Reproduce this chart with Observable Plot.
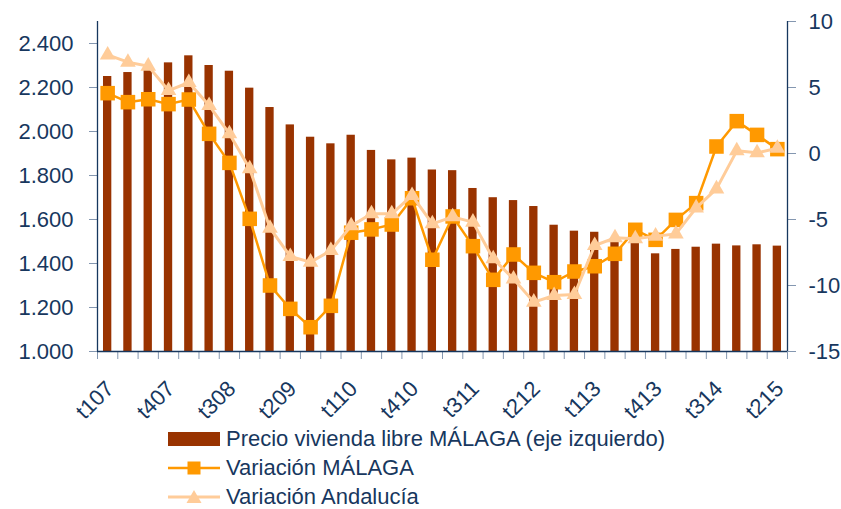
<!DOCTYPE html>
<html><head><meta charset="utf-8">
<script src="https://cdn.jsdelivr.net/npm/d3@7"></script>
<script src="https://cdn.jsdelivr.net/npm/@observablehq/plot@0.6"></script>
<style>
body{margin:0;background:#fff;font-family:"Liberation Sans",Arial,sans-serif;}
#wrap{position:relative;width:841px;height:509px;overflow:hidden;}
#legend{position:absolute;left:168px;top:425px;color:#17375E;font-size:22px;}
.row{display:flex;align-items:center;height:28.7px;white-space:nowrap;}
.row svg{margin-right:6px;flex:none;}
</style></head><body><div id="wrap"><div id="chart"></div><div id="legend"></div></div>
<script>
const categories = ["t107","t207","t307","t407","t108","t208","t308","t408","t109","t209","t309","t409",
  "t110","t210","t310","t410","t111","t211","t311","t411","t112","t212","t312","t412",
  "t113","t213","t313","t413","t114","t214","t314","t414","t115","t215"];
const tickLabels = ["t107","t407","t308","t209","t110","t410","t311","t212","t113","t413","t314","t215"];
const precio = [2250,2268,2280,2312,2344,2300,2274,2197,2109,2030,1974,1944,
  1983,1914,1871,1879,1825,1822,1741,1699,1686,1659,1574,1547,
  1542,1510,1495,1444,1464,1474,1488,1480,1485,1479];
const malaga = [4.57,3.89,4.11,3.74,4.09,1.49,-0.71,-4.95,-10.0,-11.77,-13.16,-11.54,
  -6.0,-5.75,-5.38,-3.39,-8.05,-4.77,-7.02,-9.57,-7.65,-9.04,-9.75,-8.94,
  -8.54,-7.6,-5.78,-6.54,-5.03,-3.76,0.53,2.45,1.41,0.33];
const andalucia = [7.47,6.92,6.62,4.77,5.38,3.64,1.49,-1.16,-5.66,-7.8,-8.23,-7.35,
  -5.48,-4.57,-4.57,-3.18,-5.33,-4.8,-5.2,-7.98,-9.5,-11.26,-10.76,-10.68,
  -6.97,-6.39,-6.46,-6.26,-6.09,-4.12,-2.68,0.2,0.05,0.4];
const leftTicks = [1000,1200,1400,1600,1800,2000,2200,2400];
const rightTicks = [-15,-10,-5,0,5,10];
const legendLabels = ["Precio vivienda libre MÁLAGA (eje izquierdo)","Variación MÁLAGA","Variación Andalucía"];

const W=841,H=425,ML=97,MR=54,MT=21,MB=74;
const n=categories.length;
const step=(W-ML-MR)/n;
const navy="#17375E", tickGray="#8497B0";
const cBar="#993300", cMal="#FF9900", cAnd="#FFCC99";
const labDx=3, labDy=34;
const toLeft = v => 1000 + (v+15)*60;
const fromLeft = d => Math.round((d-1000)/60 - 15);
const data = categories.map((c,i)=>({c, precio:precio[i], malaga:toLeft(malaga[i]), andalucia:toLeft(andalucia[i])}));

const chart = Plot.plot({
  width:W, height:H, marginLeft:ML, marginRight:MR, marginTop:MT, marginBottom:MB,
  style:{fontFamily:"Liberation Sans, Arial, sans-serif", fontSize:"22px", color:navy, background:"white"},
  x:{domain:categories, paddingInner:0.59, paddingOuter:0.295, round:false, label:null},
  y:{domain:[1000,2500], label:null},
  marks:[
    Plot.barY(data,{x:"c", y1:1000, y2:"precio", fill:cBar}),
    Plot.lineY(data,{x:"c", y:"malaga", stroke:cMal, strokeWidth:2.5}),
    Plot.dot(data,{x:"c", y:"malaga", symbol:"square", r:8.2, fill:cMal}),
    Plot.lineY(data,{x:"c", y:"andalucia", stroke:cAnd, strokeWidth:3}),
    Plot.dot(data,{x:"c", y:"andalucia", symbol:"triangle", r:5.8, fill:cAnd}),
    Plot.axisX({ticks:categories, tickSize:8, stroke:tickGray, tickFormat:()=>"", label:null, dx:-step/2}),
    Plot.axisX({ticks:[categories[n-1]], tickSize:8, stroke:tickGray, tickFormat:()=>"", label:null, dx:step/2}),
    Plot.text(tickLabels,{x:d=>d, frameAnchor:"bottom", className:"xlab", textAnchor:"end", fontSize:22, fill:navy}),
    Plot.axisY({ticks:leftTicks, tickSize:8, tickPadding:16, tickFormat:d=>(d/1000).toFixed(3), stroke:tickGray, fill:navy, fontSize:22, label:null}),
    Plot.axisY({anchor:"right", ticks:rightTicks.map(toLeft), tickSize:8, tickPadding:13, tickFormat:d=>String(fromLeft(d)), stroke:tickGray, fill:navy, fontSize:22, label:null}),
    Plot.ruleY([1000],{stroke:navy, strokeWidth:1.3}),
    Plot.ruleX([categories[0]],{dx:-step/2, stroke:navy, strokeWidth:1.3}),
    Plot.ruleX([categories[n-1]],{dx:step/2, stroke:navy, strokeWidth:1.3})
  ]
});
document.getElementById("chart").appendChild(chart);

// rotate the x tick labels (-45°), positioned at the band centre given by Plot's x scale
const xs = chart.scale("x");
const yBottom = H - MB;
const grp = d3.select(chart).select(".xlab").attr("transform", null);
grp.selectAll("text").each(function(){
  const lab = this.textContent;
  const cx = xs.apply(lab) + (xs.bandwidth || 0)/2;
  d3.select(this).attr("x", null).attr("y", null)
    .attr("dy","0.32em").attr("text-anchor","end")
    .attr("transform", `translate(${cx+labDx},${yBottom+labDy}) rotate(-45)`);
});

const leg = d3.select("#legend");
legendLabels.forEach((lab,i)=>{
  const row = leg.append("div").attr("class","row");
  const s = row.append("svg").attr("width",52).attr("height",28);
  if(i===0){
    s.append("rect").attr("x",0).attr("y",7).attr("width",52).attr("height",14).attr("fill",cBar);
  } else if(i===1){
    s.append("line").attr("x1",0).attr("x2",52).attr("y1",14).attr("y2",14).attr("stroke",cMal).attr("stroke-width",2.5);
    s.append("rect").attr("x",19.5).attr("y",7.5).attr("width",13).attr("height",13).attr("fill",cMal);
  } else {
    s.append("line").attr("x1",0).attr("x2",52).attr("y1",14).attr("y2",14).attr("stroke",cAnd).attr("stroke-width",3);
    s.append("path").attr("d","M26,7 L33.5,20 L18.5,20 Z").attr("fill",cAnd);
  }
  row.append("span").text(lab);
});
</script></body></html>
